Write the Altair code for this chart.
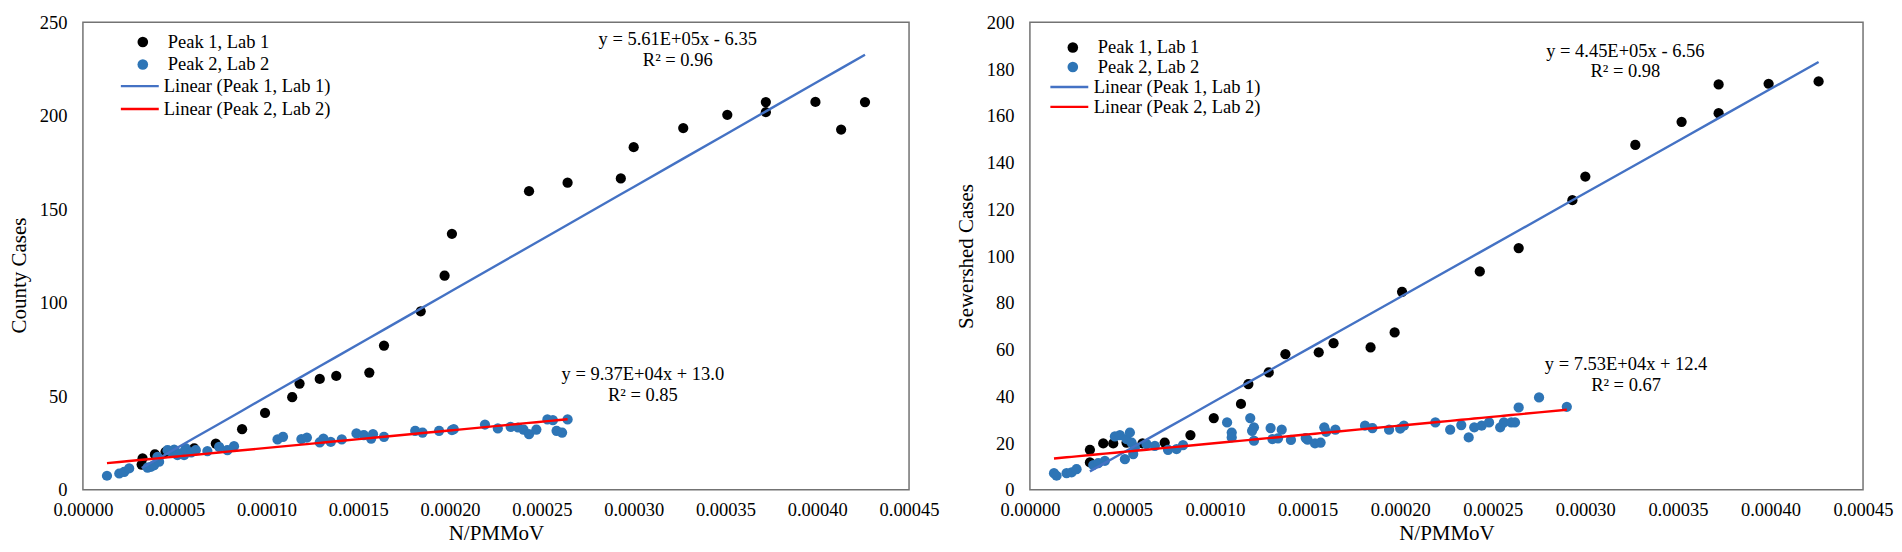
import altair as alt
import pandas as pd

FONT = "Liberation Serif"
S1 = "Peak 1, Lab 1"
S2 = "Peak 2, Lab 2"
T1 = "Linear (Peak 1, Lab 1)"
T2 = "Linear (Peak 2, Lab 2)"

X_TICKS = [0.0, 0.00005, 0.00010, 0.00015, 0.00020, 0.00025, 0.00030, 0.00035, 0.00040, 0.00045]
Y_TICKS_L = [0, 50, 100, 150, 200, 250]
Y_TICKS_R = [0, 20, 40, 60, 80, 100, 120, 140, 160, 180, 200]

# ---- Left panel: County Cases ----
L1x = [3.2e-5, 3.25e-5, 3.92e-5, 4.5e-5, 6.06e-5, 7.24e-5, 8.67e-5, 9.92e-5, 1.14e-4, 1.18e-4,
       1.29e-4, 1.38e-4, 1.56e-4, 1.64e-4, 1.84e-4, 1.97e-4, 2.01e-4, 2.43e-4, 2.64e-4, 2.93e-4,
       3.0e-4, 3.27e-4, 3.51e-4, 3.72e-4, 3.72e-4, 3.99e-4, 4.13e-4, 4.26e-4]
L1y = [13.5, 16.8, 18.9, 20.3, 22.1, 24.7, 32.4, 41.1, 49.5, 56.8,
       59.3, 60.9, 62.7, 77.1, 95.4, 114.5, 136.9, 159.7, 164.2, 166.5,
       183.2, 193.4, 200.5, 201.9, 207.3, 207.4, 192.6, 207.3]
L2x = [1.31e-5, 1.98e-5, 2.25e-5, 2.52e-5, 3.52e-5, 3.7e-5, 3.88e-5, 4.06e-5, 4.15e-5, 4.61e-5,
       4.8e-5, 4.97e-5, 5.15e-5, 5.3e-5, 5.51e-5, 5.6e-5, 5.9e-5, 6.15e-5, 6.78e-5, 7.42e-5,
       7.87e-5, 8.23e-5, 1.06e-4, 1.09e-4, 1.19e-4, 1.22e-4, 1.29e-4, 1.31e-4, 1.35e-4, 1.41e-4,
       1.49e-4, 1.53e-4, 1.57e-4, 1.58e-4, 1.64e-4, 1.81e-4, 1.85e-4, 1.94e-4, 2.01e-4, 2.02e-4,
       2.19e-4, 2.26e-4, 2.33e-4, 2.37e-4, 2.40e-4, 2.43e-4, 2.47e-4, 2.53e-4, 2.56e-4, 2.58e-4,
       2.61e-4, 2.64e-4]
L2y = [7.5, 8.7, 9.6, 11.4, 11.8, 12.3, 13.2, 17.6, 15.0, 21.2,
       20.5, 21.5, 18.5, 19.5, 18.5, 22.1, 20.0, 21.2, 20.7, 23.0,
       21.2, 23.3, 26.9, 28.3, 27.1, 27.9, 25.3, 27.4, 25.6, 26.9,
       30.1, 29.2, 27.4, 29.7, 28.3, 31.5, 30.6, 31.5, 31.9, 32.4,
       34.9, 32.8, 33.6, 33.3, 32.2, 29.7, 32.2, 37.6, 37.2, 31.5,
       30.6, 37.6]
L_SLOPE = [5.61e5, 9.37e4]
L_ICPT = [-6.35, 13.0]
L_ANN_X = [3.24e-4, 3.24e-4, 3.05e-4, 3.05e-4]
L_ANN_Y = [240.8, 230.0, 61.8, 50.6]
L_ANN_T = ["y = 5.61E+05x - 6.35", "R² = 0.96", "y = 9.37E+04x + 13.0", "R² = 0.85"]

# ---- Right panel: Sewershed Cases ----
R1x = [3.24e-5, 3.24e-5, 3.96e-5, 4.5e-5, 5.22e-5, 6.08e-5, 7.28e-5, 8.67e-5, 9.93e-5, 1.14e-4,
       1.18e-4, 1.29e-4, 1.38e-4, 1.56e-4, 1.64e-4, 1.84e-4, 1.97e-4, 2.01e-4, 2.43e-4, 2.64e-4,
       2.93e-4, 3.0e-4, 3.27e-4, 3.52e-4, 3.72e-4, 3.72e-4, 3.99e-4, 4.26e-4]
R1y = [11.7, 17.1, 19.8, 19.8, 20.2, 19.8, 20.2, 23.4, 30.7, 36.7,
       45.2, 50.2, 58.0, 58.8, 62.7, 60.9, 67.3, 84.7, 93.4, 103.4,
       123.9, 134.0, 147.5, 157.4, 161.1, 173.4, 173.7, 174.7]
R2x = [1.3e-5, 1.44e-5, 1.98e-5, 2.25e-5, 2.52e-5, 3.42e-5, 3.69e-5, 4.05e-5, 4.59e-5, 4.86e-5,
       5.13e-5, 5.22e-5, 5.40e-5, 5.49e-5, 5.58e-5, 5.67e-5, 6.3e-5, 6.75e-5, 7.46e-5, 7.92e-5,
       8.27e-5, 1.065e-4, 1.09e-4, 1.09e-4, 1.19e-4, 1.20e-4, 1.21e-4, 1.21e-4, 1.30e-4, 1.31e-4,
       1.34e-4, 1.36e-4, 1.41e-4, 1.49e-4, 1.50e-4, 1.54e-4, 1.57e-4, 1.59e-4, 1.60e-4, 1.65e-4,
       1.81e-4, 1.85e-4, 1.94e-4, 2.0e-4, 2.02e-4, 2.19e-4, 2.27e-4, 2.33e-4, 2.37e-4, 2.40e-4,
       2.44e-4, 2.48e-4, 2.54e-4, 2.56e-4, 2.60e-4, 2.62e-4, 2.64e-4, 2.75e-4, 2.90e-4]
R2y = [7.1, 6.0, 7.1, 7.4, 8.8, 10.6, 11.4, 12.4, 22.8, 23.4,
       13.1, 21.7, 24.5, 20.2, 15.3, 18.1, 19.5, 18.8, 17.1, 17.4,
       19.1, 28.8, 24.5, 22.4, 30.7, 25.2, 26.7, 21.0, 26.4, 21.7,
       22.0, 25.7, 21.3, 22.1, 21.4, 19.8, 20.2, 26.7, 24.8, 25.7,
       27.4, 26.4, 25.7, 26.2, 27.4, 28.8, 25.7, 27.7, 22.4, 26.7,
       27.4, 28.8, 26.7, 28.8, 28.8, 28.8, 35.2, 39.5, 35.5]
R_SLOPE = [4.45e5, 7.53e4]
R_ICPT = [-6.56, 12.4]
R_ANN_X = [3.216e-4, 3.216e-4, 3.22e-4, 3.22e-4]
R_ANN_Y = [187.5, 179.0, 53.8, 44.9]
R_ANN_T = ["y = 4.45E+05x - 6.56", "R² = 0.98", "y = 7.53E+04x + 12.4", "R² = 0.67"]

PT_COLORS = ["#000000", "#2E75B6"]
LN_COLORS = ["#4472C4", "#FF0000"]


def make_df(p1x, p1y, p2x, p2y, slopes, icpts):
    rows = []
    for x, y in zip(p1x, p1y):
        rows.append({"x": x, "y": y, "series": S1, "slope": slopes[0], "icpt": icpts[0]})
    for x, y in zip(p2x, p2y):
        rows.append({"x": x, "y": y, "series": S2, "slope": slopes[1], "icpt": icpts[1]})
    return pd.DataFrame(rows)


def panel(df, ann, ytitle, ydom, yticks, width, leg1, leg2, title_y=None):
    xscale = alt.Scale(domain=[0, 0.00045], nice=False, zero=False)
    yscale = alt.Scale(domain=ydom, nice=False, zero=False)
    xaxis = alt.Axis(values=X_TICKS, format=".5f", title="N/PMMoV")
    yargs = dict(values=yticks, title=ytitle)
    if title_y is not None:
        yargs["titleY"] = title_y
    yaxis = alt.Axis(**yargs)

    base = alt.Chart(df)
    pts = base.mark_circle(size=105, opacity=1).encode(
        x=alt.X("x:Q", scale=xscale, axis=xaxis),
        y=alt.Y("y:Q", scale=yscale, axis=yaxis),
        fill=alt.Fill(
            "series:N",
            scale=alt.Scale(domain=[S1, S2], range=PT_COLORS),
            legend=alt.Legend(
                orient="none", legendX=leg1[0], legendY=leg1[1], title=None,
                symbolType="circle", symbolSize=113, symbolStrokeWidth=0,
                labelFont=FONT, labelFontSize=18.5, labelColor="black", labelLimit=0,
                labelOffset=leg1[2], rowPadding=leg1[3], padding=0,
            ),
        ),
    )
    lines = base.transform_calculate(
        fit="datum.slope * datum.x + datum.icpt",
        trend="'Linear (' + datum.series + ')'",
    ).mark_line(strokeWidth=2.4).encode(
        x=alt.X("x:Q", scale=xscale, axis=xaxis),
        y=alt.Y("fit:Q", scale=yscale, axis=yaxis),
        stroke=alt.Stroke(
            "trend:N",
            scale=alt.Scale(domain=[T1, T2], range=LN_COLORS),
            legend=alt.Legend(
                orient="none", legendX=leg2[0], legendY=leg2[1], title=None,
                symbolType="M-3,0H3", symbolSize=160, symbolStrokeWidth=2.4,
                symbolFillColor="transparent",
                labelFont=FONT, labelFontSize=18.5, labelColor="black", labelLimit=0,
                labelOffset=leg2[2], rowPadding=leg2[3], padding=0,
            ),
        ),
        order="x:Q",
    )
    ann_df = pd.DataFrame({"x": ann[0], "y": ann[1], "t": ann[2]})
    txt = alt.Chart(ann_df).mark_text(font=FONT, fontSize=18.5, color="black").encode(
        x=alt.X("x:Q", scale=xscale, axis=xaxis),
        y=alt.Y("y:Q", scale=yscale, axis=yaxis),
        text="t:N",
    )
    return alt.layer(pts, lines, txt).properties(width=width, height=468)


left = panel(
    make_df(L1x, L1y, L2x, L2y, L_SLOPE, L_ICPT),
    (L_ANN_X, L_ANN_Y, L_ANN_T),
    "County Cases", [0, 250], Y_TICKS_L, 827,
    (50.7, 10.5, 15.7, 3.5), (47.7, 54.7, 14.7, 3.8), title_y=253,
)
right = panel(
    make_df(R1x, R1y, R2x, R2y, R_SLOPE, R_ICPT),
    (R_ANN_X, R_ANN_Y, R_ANN_T),
    "Sewershed Cases", [0, 200], Y_TICKS_R, 834,
    (33.7, 16.0, 15.7, 0.5), (30.2, 55.5, 15.2, 0.9),
)

chart = alt.hconcat(left, right, spacing=121, bounds="flush").resolve_scale(
    x="independent", y="independent", fill="independent", stroke="independent"
).properties(
    padding={"left": 0, "top": 4, "right": 0, "bottom": 0}
).configure_view(
    stroke="#737373", strokeWidth=1.5
).configure_axis(
    grid=False, domain=False, ticks=False, tickSize=0,
    labelFont=FONT, labelFontSize=18.5, labelColor="black",
    titleFont=FONT, titleFontSize=21, titleFontWeight="normal", titleColor="black",
    labelFlush=False, labelOverlap=False,
).configure_axisX(
    labelPadding=11, titlePadding=3,
).configure_axisY(
    labelPadding=16, titlePadding=9.5,
)

chart.save("out.html", embed_options={"renderer": "svg", "actions": False})
